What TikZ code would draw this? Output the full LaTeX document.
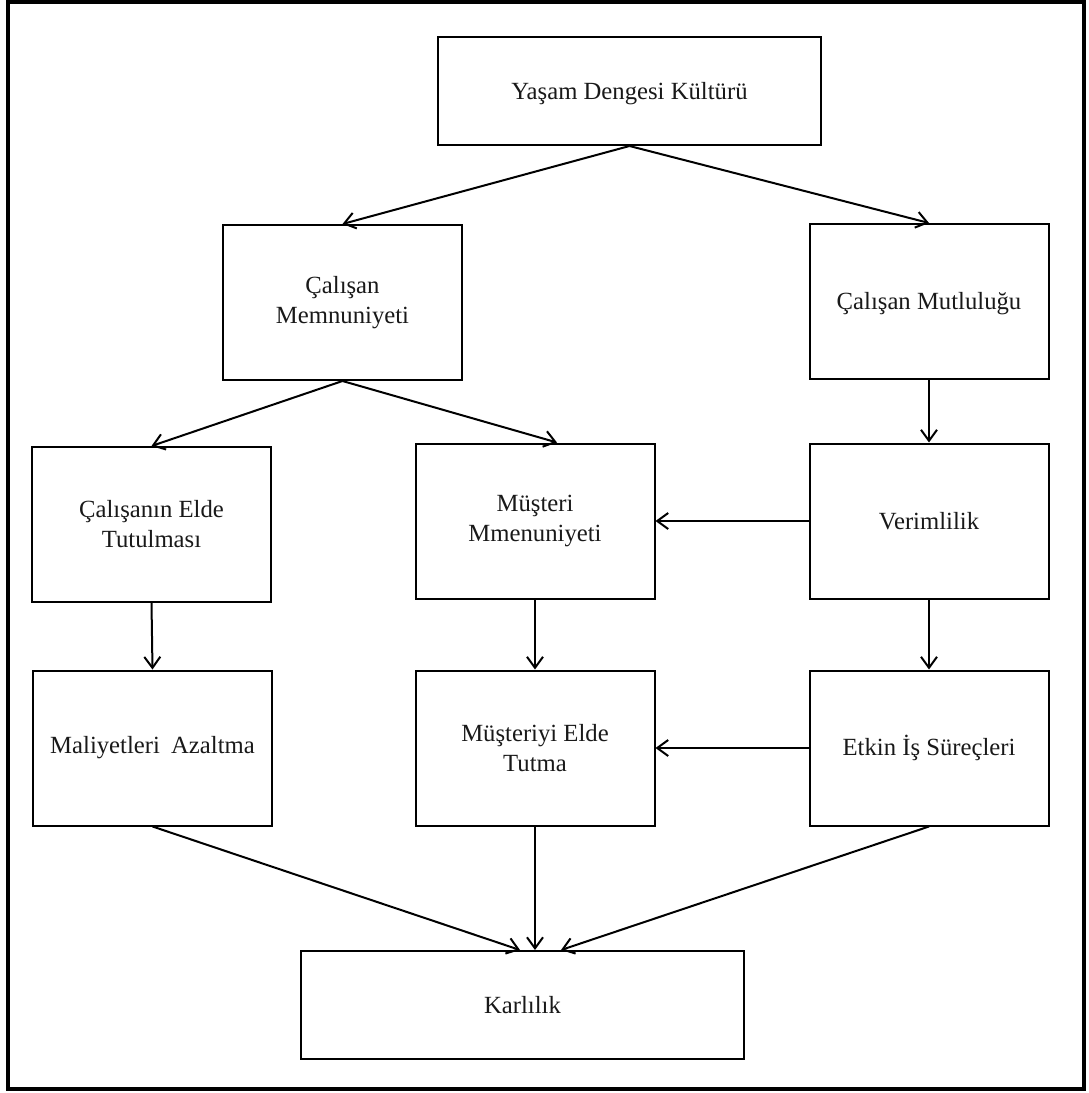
\documentclass[tikz,border=0pt]{standalone}
\usepackage{fontspec}
\setmainfont{Liberation Serif}
\usetikzlibrary{arrows.meta}
\begin{document}
\begin{tikzpicture}[x=1pt,y=-1pt,
  box/.style={draw=black, line width=2pt, inner sep=0pt, align=center,
    font=\fontsize{24.7}{30}\selectfont, text=black!90},
  sbox/.style={box, minimum width=239pt, minimum height=155pt},
  arr/.style={line width=2pt, -{Straight Barb[length=11pt,width=16pt,line width=2pt]}}]
\useasboundingbox (0,0) rectangle (1088,1093);
\draw[line width=4pt] (8,1.8) rectangle (1083.5,1089);
\node[box, minimum width=383pt, minimum height=108pt] (top) at (629.5,91) {\raisebox{-3pt}[\height][\depth]{Yaşam Dengesi Kültürü}};
\node[sbox] (memn) at (342.5,302.5) {Çalışan\\Memnuniyeti};
\node[sbox] (mutlu) at (929,301.5) {\raisebox{-2pt}[\height][\depth]{Çalışan Mutluluğu}};
\node[sbox] (tutul) at (151.5,524.5) {Çalışanın Elde\\Tutulması};
\node[sbox] (mmus) at (535,521) {Müşteri\\Mmenuniyeti};
\node[sbox] (verim) at (929,521) {Verimlilik};
\node[sbox] (maliy) at (152.5,748) {Maliyetleri\hspace{0.45em}Azaltma};
\node[sbox] (tutma) at (535,748) {Müşteriyi Elde\\Tutma};
\node[sbox] (etkin) at (929,748) {Etkin İş Süreçleri};
\node[box, minimum width=443pt, minimum height=108pt] (karl) at (522.5,1005) {Karlılık};

\draw[arr] (top.south) -- (memn.north);
\draw[arr] (top.south) -- (mutlu.north);
\draw[arr] (memn.south) -- (tutul.north);
\draw[arr] (memn.south) -- ([xshift=22pt]mmus.north);
\draw[arr] (mutlu.south) -- (verim.north);
\draw[arr] (verim.west) -- (mmus.east);
\draw[arr] (tutul.south) -- (maliy.north);
\draw[arr] (mmus.south) -- (tutma.north);
\draw[arr] (verim.south) -- (etkin.north);
\draw[arr] (etkin.west) -- (tutma.east);
\draw[arr] (maliy.south) -- ([xshift=-2.5pt]karl.north);
\draw[arr] (tutma.south) -- (tutma.south |- karl.north);
\draw[arr] (etkin.south) -- ([xshift=38.5pt]karl.north);
\end{tikzpicture}
\end{document}
